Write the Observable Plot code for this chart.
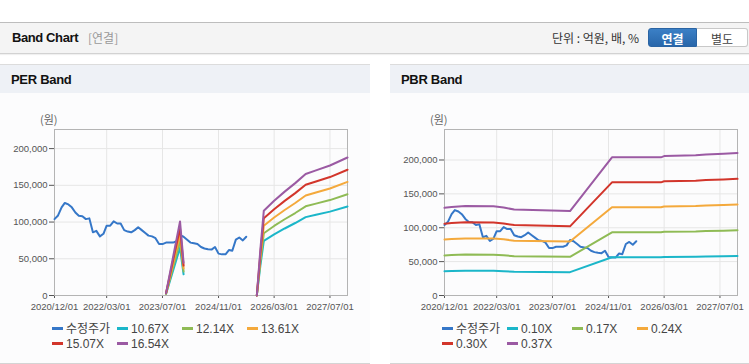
<!DOCTYPE html>
<html><head><meta charset="utf-8">
<script src="https://cdn.jsdelivr.net/npm/d3@7"></script>
<script src="https://cdn.jsdelivr.net/npm/@observablehq/plot@0.6"></script>
<style>
html,body{margin:0;padding:0}
body{width:749px;height:364px;overflow:hidden;background:#fff;position:relative;font-family:"Liberation Sans",Arial,"Noto Sans CJK KR",sans-serif;color:#333}
.top{position:absolute;left:0;top:22px;width:749px;height:30px;background:#f4f4f4;border-top:1px solid #bdbdbd;border-bottom:1px solid #d2d2d2;box-shadow:0 1px 1px rgba(0,0,0,0.06)}
.ttl{position:absolute;left:12px;top:7px;font-weight:bold;font-size:13px;letter-spacing:-0.4px;color:#111}
.sub{position:absolute;left:88px;top:8px;font-size:12px;color:#999;font-family:"Noto Sans CJK KR",sans-serif;line-height:14px}
.unit{position:absolute;left:552px;top:8px;font-size:12px;color:#333;font-family:"Noto Sans CJK KR",sans-serif;line-height:14px}
.btn{position:absolute;top:5px;height:19px;line-height:19px;text-align:center;font-size:12px;font-family:"Noto Sans CJK KR",sans-serif;box-sizing:border-box}
.b1{left:648px;width:49px;background:linear-gradient(#3b80c6,#2866aa);color:#fff;font-weight:bold;border:1px solid #2a64a3;border-radius:3px 0 0 3px}
.b2{left:697px;width:51px;background:#fff;color:#444;border:1px solid #c8c8c8;border-left:none;border-radius:0 3px 3px 0}
.panel{position:absolute;top:64px;width:370px;height:298px;background:#fcfcfd;border-top:1px solid #dcdcdc;border-bottom:1px solid #d4d4d4}
.ph{position:absolute;left:0;top:0;width:100%;height:28px;background:#eef1f6}
.ph span{position:absolute;left:11px;top:7px;font-weight:bold;font-size:13px;letter-spacing:-0.3px;color:#111}
.chart{position:absolute;left:0;top:28px}
.unitlbl{position:absolute;left:40px;top:48px;font-size:11px;color:#666;font-family:"Noto Sans CJK KR",sans-serif;line-height:12px}
.legend{position:absolute;left:52px;top:257px;width:300px;font-size:12px;line-height:15px;color:#444}
.li{display:inline-block;width:65px;height:15px;white-space:nowrap;vertical-align:top}
.sw{display:inline-block;width:11px;height:3px;vertical-align:middle;margin-right:3px;position:relative;top:-1px}
.li .t{font-family:"Liberation Sans",Arial,"Noto Sans CJK KR",sans-serif}
</style>
</head><body>
<div class="top">
  <div class="ttl">Band Chart</div>
  <div class="sub">[연결]</div>
  <div class="unit">단위 : 억원, 배, %</div>
  <div class="btn b1">연결</div>
  <div class="btn b2">별도</div>
</div>
<div class="panel" id="p1" style="left:0">
  <div class="ph"><span>PER Band</span></div>
  <div class="unitlbl">(원)</div>
  <div class="chart" id="c1"></div>
  <div class="legend" id="l1"></div>
</div>
<div class="panel" id="p2" style="left:390px">
  <div class="ph"><span>PBR Band</span></div>
  <div class="unitlbl">(원)</div>
  <div class="chart" id="c2"></div>
  <div class="legend" id="l2"></div>
</div>
<script>
// ---- data ----
const priceMonths = ["2020-12","2021-01","2021-02","2021-03","2021-04","2021-05","2021-06","2021-07","2021-08","2021-09","2021-10","2021-11",
  "2021-12","2022-01","2022-02","2022-03","2022-04","2022-05","2022-06","2022-07","2022-08","2022-09","2022-10","2022-11",
  "2022-12","2023-01","2023-02","2023-03","2023-04","2023-05","2023-06","2023-07","2023-08","2023-09","2023-10","2023-11",
  "2023-12","2024-01","2024-02","2024-03","2024-04","2024-05","2024-06","2024-07","2024-08","2024-09","2024-10","2024-11",
  "2024-12","2025-01","2025-02","2025-03","2025-04","2025-05","2025-06","2025-07"];
const priceValues = [104000,109000,120000,126000,124000,120000,113000,108500,108000,104000,105000,86000,
  88000,80500,84000,95000,95000,101000,98000,98000,89000,87000,86000,89000,
  93000,89000,85000,81500,80500,78000,70000,70000,72000,72000,72000,74000,
  82000,80000,76000,72000,71000,70000,66000,64000,63000,62500,66000,57000,
  56000,56000,62000,61000,76000,79000,75000,80000];

const epsMonths = ["2023-08","2023-12","2024-01","2024-02","2025-10","2025-11","2025-12","2026-03","2026-06","2026-09","2026-12","2027-03","2027-07","2027-12"];
const epsValues = [200,6100,2700,null,0,3800,6980,7800,8550,9250,10000,10300,10700,11360];
const perMultiples = [10.67,12.14,13.61,15.07,16.54];
const perLabels = ["10.67X","12.14X","13.61X","15.07X","16.54X"];

const bpsMonths = ["2020-12","2021-02","2021-06","2022-02","2022-05","2022-08","2023-12","2024-12","2026-02","2026-03","2026-12","2027-03","2027-08","2027-12"];
const bpsValues = [351000,354000,358000,357000,352000,344000,338000,553000,553000,558000,561000,564000,567000,570000];
const pbrMultiples = [0.102,0.1687,0.2354,0.302,0.3688];
const pbrLabels = ["0.10X","0.17X","0.24X","0.30X","0.37X"];

const priceLabel = "수정주가";
const xTicks = ["2020-12-01","2022-03-01","2023-07-01","2024-11-01","2026-03-01","2027-07-01"];
const xDomain = ["2020-12-01","2027-12-01"];
const yTicks = [0,50000,100000,150000,200000];
const colors = ["#3577c8","#1bb6c9","#8fbb55","#f4a93c","#d2352b","#9b5aa3"];

// ---- build ----
const toDate = s => new Date(s.length === 7 ? s + "-01" : s);
const price = priceMonths.map((m,i) => ({date: toDate(m), value: priceValues[i]}));

function bandChart(el, baseMonths, baseValues, mults, yMax){
  const marks = [
    Plot.ruleY(yTicks.slice(1), {stroke:"#e6e6e6"}),
    Plot.ruleX(xTicks.map(toDate), {stroke:"#e6e6e6"}),
    Plot.frame({stroke:"#b4b4b4"}),
    Plot.line(price, {x:"date", y:"value", stroke:colors[0], strokeWidth:2})
  ];
  mults.forEach((k,j) => {
    const d = baseMonths.map((m,i) => ({date: toDate(m), value: baseValues[i] == null ? null : baseValues[i]*k}));
    marks.push(Plot.line(d, {x:"date", y:"value", stroke:colors[j+1], strokeWidth:2}));
  });
  const p = Plot.plot({
    width: 370, height: 222,
    marginLeft: 54, marginRight: 23, marginTop: 36, marginBottom: 20,
    style: {fontSize:"9.5px", fontFamily:"'Liberation Sans',Arial,sans-serif", color:"#555", background:"transparent", overflow:"visible"},
    x: {type:"utc", domain: xDomain.map(toDate), ticks: xTicks.map(toDate), tickFormat: d3.utcFormat("%Y/%m/%d"), tickSize:3, tickPadding:5, label:null},
    y: {domain:[0,yMax], ticks: yTicks, tickFormat: d3.format(","), tickSize:5, tickPadding:2, label:null},
    marks
  });
  document.getElementById(el).appendChild(p);
}
bandChart("c1", epsMonths, epsValues, perMultiples, 226000);
bandChart("c2", bpsMonths, bpsValues, pbrMultiples, 245000);

function legend(el, labels){
  const box = document.getElementById(el);
  [priceLabel, ...labels].forEach((t,i) => {
    const li = document.createElement("span"); li.className = "li";
    const sw = document.createElement("span"); sw.className = "sw"; sw.style.background = colors[i];
    const tx = document.createElement("span"); tx.className = "t"; tx.textContent = t;
    li.appendChild(sw); li.appendChild(tx); box.appendChild(li);
    if (i === 3) box.appendChild(document.createElement("br"));
  });
}
legend("l1", perLabels);
legend("l2", pbrLabels);
</script>
</body></html>
